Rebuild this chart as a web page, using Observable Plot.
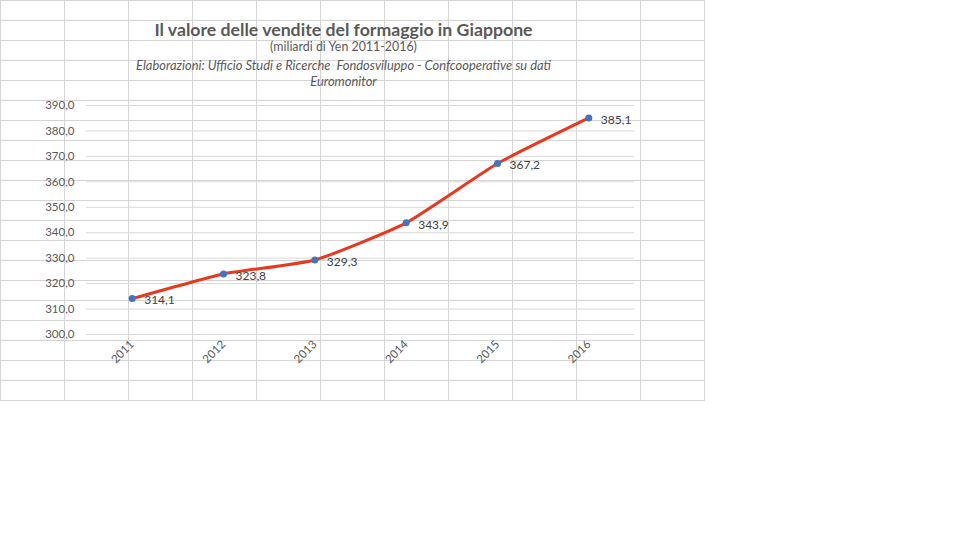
<!DOCTYPE html>
<html>
<head>
<meta charset="utf-8">
<script src="https://cdn.jsdelivr.net/npm/d3@7"></script>
<script src="https://cdn.jsdelivr.net/npm/@observablehq/plot@0.6"></script>
<style>
  html, body { margin: 0; padding: 0; background: #fff; }
  #wrap { position: relative; width: 960px; height: 540px; overflow: hidden; }
  .t { position: absolute; left: 0; width: 687px; text-align: center; color: #595959; white-space: pre; font-family: Lato, "Noto Sans", sans-serif; }
  #title { top: 19px; font-size: 17.7px; font-weight: bold; line-height: 22px; }
  #subtitle { top: 39px; font-size: 12.4px; line-height: 16px; }
  #caption { top: 57px; font-size: 12.9px; line-height: 16px; font-style: italic; }
</style>
</head>
<body>
<div id="wrap">
  <div id="chart"></div>
  <div class="t" id="title">Il valore delle vendite del formaggio in Giappone</div>
  <div class="t" id="subtitle">(miliardi di Yen 2011-2016)</div>
  <div class="t" id="caption">Elaborazioni: Ufficio Studi e Ricerche  Fondosviluppo - Confcooperative su dati
Euromonitor</div>
</div>
<script>
const years = ["2011", "2012", "2013", "2014", "2015", "2016"];
const values = [314.1, 323.8, 329.3, 343.9, 367.2, 385.1];
const yTicks = [300, 310, 320, 330, 340, 350, 360, 370, 380, 390];

const data = years.map((year, i) => ({year, value: values[i]}));
const fmt = d => d.toFixed(1).replace(".", ",");

const svg = Plot.plot({
  width: 960,
  height: 540,
  marginLeft: 86,
  marginRight: 326,
  marginTop: 105,
  marginBottom: 206,
  style: {fontFamily: "Lato, 'Noto Sans', sans-serif", fontSize: "11.5px", color: "#595959", background: "transparent", overflow: "visible"},
  x: {type: "point", domain: years, padding: 0.5, round: false, label: null},
  y: {domain: [300, 390], label: null},
  marks: [
    Plot.gridY(yTicks, {stroke: "#d9d9d9", strokeOpacity: 1}),
    Plot.axisY(yTicks, {tickSize: 0, tickPadding: 12, label: null, tickFormat: fmt}),
    Plot.axisX({tickSize: 0, tickRotate: -45, tickPadding: 8, label: null}),
    Plot.line(data, {x: "year", y: "value", stroke: "#E8391C", strokeWidth: 3, curve: "cardinal", tension: 0.5}),
    Plot.dot(data, {x: "year", y: "value", r: 3.5, fill: "#4472C4"}),
    Plot.text(data, {x: "year", y: "value", text: d => fmt(d.value), dx: 12, dy: 2, textAnchor: "start", fill: "#404040", fontSize: 12})
  ]
});

// spreadsheet cell grid behind the chart
const g = d3.select(svg).insert("g", ":first-child").attr("stroke", "#d4d4d4").attr("stroke-width", 1);
const cols = d3.range(0, 705, 64);
const rows = d3.range(0, 401, 20);
g.selectAll("line.c").data(cols).join("line").attr("class", "c")
  .attr("x1", d => d + 0.5).attr("x2", d => d + 0.5).attr("y1", 0).attr("y2", 401);
g.selectAll("line.r").data(rows).join("line").attr("class", "r")
  .attr("x1", 0).attr("x2", 705).attr("y1", d => d + 0.5).attr("y2", d => d + 0.5);

document.getElementById("chart").appendChild(svg);
</script>
</body>
</html>
